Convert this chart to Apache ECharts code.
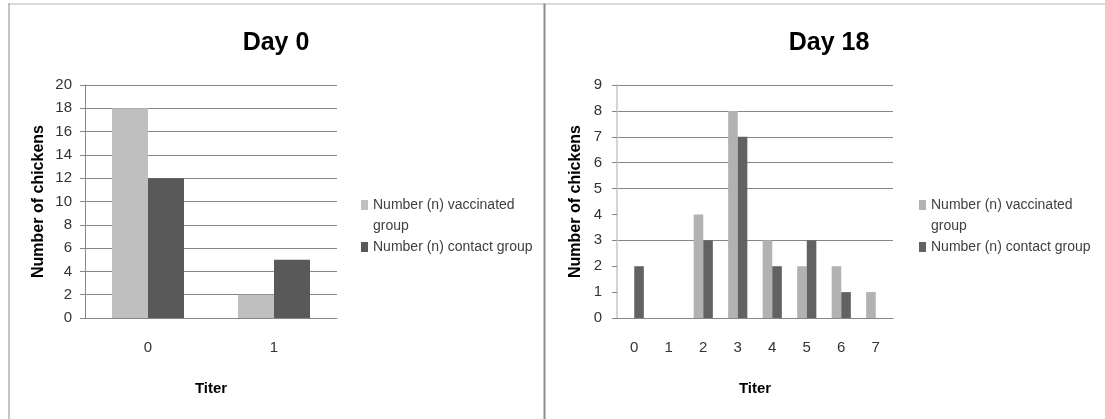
<!DOCTYPE html>
<html>
<head>
<meta charset="utf-8">
<script src="https://cdn.jsdelivr.net/npm/echarts@6/dist/echarts.min.js"></script>
<style>
html,body{margin:0;padding:0;background:#fff;}
#chart{width:1105px;height:419px;}
</style>
</head>
<body>
<div id="chart"></div>
<script>
// ---- data ----
const day0Categories = ['0', '1'];
const day0Vaccinated = [18, 2];
const day0Contact = [12, 5];

const day18Categories = ['0', '1', '2', '3', '4', '5', '6', '7'];
const day18Vaccinated = [0, 0, 4, 8, 3, 2, 2, 1];
const day18Contact = [2, 0, 3, 7, 2, 3, 1, 0];

const seriesNames = ['Number (n) vaccinated group', 'Number (n) contact group'];
const legendLabels = ['Number (n) vaccinated\ngroup', 'Number (n) contact group'];
const titles = ['Day 0', 'Day 18'];
const yAxisName = 'Number of chickens';
const xAxisName = 'Titer';

// ---- styles ----
const FONT = '"Liberation Sans", Arial, sans-serif';
const GRID_COLOR = '#868686';
const T = 'rgba(0,0,0,0)';
const day18LineColors = [GRID_COLOR, T, T, GRID_COLOR, T, GRID_COLOR, GRID_COLOR, GRID_COLOR, GRID_COLOR, GRID_COLOR];

const chart = echarts.init(document.getElementById('chart'), null, {renderer: 'canvas'});

const legendText = {fontFamily: FONT, fontSize: 14, color: '#404040', lineHeight: 21};

function legendsFor(left, colors) {
  return [
    { // two-line item, icon aligned with first line
      left: left, top: 194.5, orient: 'vertical', padding: 0,
      itemWidth: 7, itemHeight: 31, selectedMode: false,
      data: [{name: seriesNames[0], icon: 'path://M0,0H7V10H0Z M0,31H7', itemStyle: {color: colors[0], borderWidth: 0}}],
      formatter: function () { return legendLabels[0]; },
      textStyle: legendText
    },
    {
      left: left, top: 236.5, orient: 'vertical', padding: 0,
      itemWidth: 7, itemHeight: 10, selectedMode: false,
      data: [{name: seriesNames[1], icon: 'rect', itemStyle: {color: colors[1], borderWidth: 0}}],
      formatter: function () { return legendLabels[1]; },
      textStyle: legendText
    }
  ];
}

function yAxis(gridIndex, max, interval, lineColor, lineWidth, splitColors, labelMargin, nameGap) {
  return {
    type: 'value', gridIndex: gridIndex, min: 0, max: max, interval: interval,
    name: yAxisName, nameLocation: 'middle', nameGap: nameGap, nameRotate: 90,
    nameTextStyle: {fontFamily: FONT, fontSize: 16, fontWeight: 'bold', color: '#000'},
    axisLine: {show: true, lineStyle: {color: lineColor, width: lineWidth}},
    axisTick: {show: true, length: 5, lineStyle: {color: splitColors}},
    axisLabel: {fontFamily: FONT, fontSize: 15, color: '#333', margin: labelMargin},
    splitLine: {show: true, lineStyle: {color: splitColors, width: 1}}
  };
}

function xAxis(gridIndex, cats) {
  return {
    type: 'category', gridIndex: gridIndex, data: cats,
    name: xAxisName, nameLocation: 'middle', nameGap: 63,
    nameTextStyle: {fontFamily: FONT, fontSize: 15, fontWeight: 'bold', color: '#000'},
    axisLine: {show: true, lineStyle: {color: GRID_COLOR, width: 1}},
    axisTick: {show: false},
    axisLabel: {fontFamily: FONT, fontSize: 15, color: '#333', margin: 22}
  };
}

const titleStyle = {fontFamily: FONT, fontSize: 25, fontWeight: 'bold', color: '#000'};

const option = {
  animation: false,
  backgroundColor: '#fff',
  title: [
    {text: titles[0], left: 276, top: 31, padding: 0, textAlign: 'center', textStyle: titleStyle},
    {text: titles[1], left: 829, top: 31, padding: 0, textAlign: 'center', textStyle: titleStyle}
  ],
  legend: legendsFor(361, ['#bfbfbf', '#595959']).concat(legendsFor(919, ['#b2b2b2', '#626262'])),
  grid: [
    {left: 85, top: 85, width: 252, height: 233, containLabel: false},
    {left: 617, top: 85, width: 276, height: 233, containLabel: false}
  ],
  xAxis: [xAxis(0, day0Categories), xAxis(1, day18Categories)],
  yAxis: [
    yAxis(0, 20, 2, GRID_COLOR, 1, GRID_COLOR, 13, 38),
    yAxis(1, 9, 1, '#d4d4d4', 2, day18LineColors, 15, 33)
  ],
  series: [
    {name: seriesNames[0], type: 'bar', xAxisIndex: 0, yAxisIndex: 0, data: day0Vaccinated,
     barWidth: 36, barGap: '0%', itemStyle: {color: '#bfbfbf'}},
    {name: seriesNames[1], type: 'bar', xAxisIndex: 0, yAxisIndex: 0, data: day0Contact,
     barWidth: 36, barGap: '0%', itemStyle: {color: '#595959'}},
    {name: seriesNames[0], type: 'bar', xAxisIndex: 1, yAxisIndex: 1, data: day18Vaccinated,
     barWidth: 9.6, barGap: '0%', itemStyle: {color: '#b2b2b2'}},
    {name: seriesNames[1], type: 'bar', xAxisIndex: 1, yAxisIndex: 1, data: day18Contact,
     barWidth: 9.6, barGap: '0%', itemStyle: {color: '#626262'}}
  ],
  graphic: [
    {type: 'rect', shape: {x: 8, y: 3.5, width: 1097, height: 1}, style: {fill: '#b8b8b8'}, silent: true},
    {type: 'rect', shape: {x: 8.5, y: 3.5, width: 1, height: 416}, style: {fill: '#8c8c8c'}, silent: true},
    {type: 'rect', shape: {x: 543.5, y: 3.5, width: 2, height: 416}, style: {fill: '#8c8c8c'}, silent: true}
  ]
};
chart.setOption(option);
</script>
</body>
</html>
